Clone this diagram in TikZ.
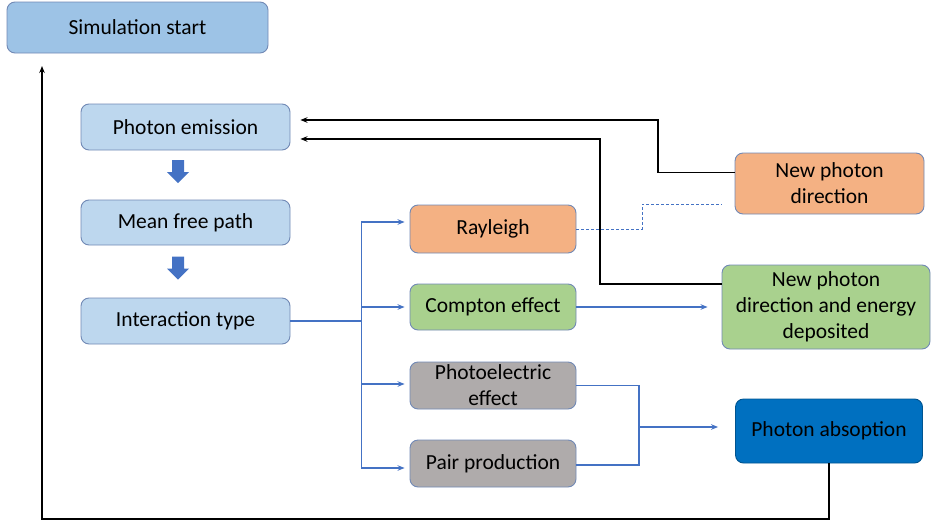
\documentclass[tikz,border=0pt]{standalone}
\usepackage{fontspec}
\setmainfont{Carlito}
\usetikzlibrary{arrows.meta,calc}

\definecolor{simfill}{HTML}{9DC3E6}
\definecolor{lightfill}{HTML}{BDD7EE}
\definecolor{orangefill}{HTML}{F4B183}
\definecolor{greenfill}{HTML}{A9D18E}
\definecolor{greyfill}{HTML}{AFABAB}
\definecolor{darkfill}{HTML}{0070C0}
\definecolor{edgeblue}{HTML}{7189B5}
\definecolor{linkblue}{HTML}{4472C4}

\tikzset{
  box/.style={draw=edgeblue, line width=0.9pt, rounded corners=8pt,
    align=center, inner sep=0pt, font=\fontsize{21.5}{26}\selectfont},
  flowline/.style={draw=linkblue, line width=1.2pt},
  flowarrow/.style={flowline, -{Stealth[length=7pt,width=5.5pt]}},
  backarrow/.style={draw=black, line width=1.5pt, -{Stealth[length=7pt,width=5.5pt]}},
  backline/.style={draw=black, line width=1.5pt},
  hintline/.style={draw=linkblue, line width=0.8pt, dash pattern=on 3pt off 2pt},
  blockarrow/.style={fill=linkblue, draw=none}
}

\begin{document}
\begin{tikzpicture}[x=1pt,y=-1pt]
\useasboundingbox (0,0) rectangle (931,522);

% main sequence
\node[box, fill=simfill, minimum width=261, minimum height=51] (sim) at (137.5,27.5) {Simulation start};
\node[box, fill=lightfill, minimum width=209, minimum height=46] (emit) at (185.5,127) {Photon emission};
\node[box, fill=lightfill, minimum width=209, minimum height=45] (mfp) at (185.5,222.5) {Mean free path};
\node[box, fill=lightfill, minimum width=209, minimum height=46] (itype) at (185.5,321) {Interaction type};

% interaction kinds
\node[box, fill=orangefill, minimum width=166, minimum height=48] (ray) at (493,229) {Rayleigh};
\node[box, fill=greenfill, minimum width=166, minimum height=46] (comp) at (493,307) {Compton effect};
\node[box, fill=greyfill, minimum width=166, minimum height=47] (photo) at (493,385.5) {Photoelectric\\effect};
\node[box, fill=greyfill, minimum width=166, minimum height=47] (pair) at (493,463.5) {Pair production};

% outcomes
\node[box, fill=orangefill, minimum width=189, minimum height=61] (newdir) at (829.5,183.5) {New photon\\direction};
\node[box, fill=greenfill, minimum width=208, minimum height=84] (newde) at (826,307) {New photon\\direction and energy\\deposited};
\node[box, fill=darkfill, draw=darkfill!75!black, minimum width=187, minimum height=64] (absorb) at (829,431) {Photon absoption};

% block arrows between the sequence steps
\foreach \a/\b in {emit/mfp, mfp/itype}{
  \path ($(\a.south)!0.5!(\b.north)+(-7.5,-3.5)$) coordinate (c);
  \fill[blockarrow] ($(c)+(-6,-11.5)$) -- ($(c)+(6,-11.5)$) -- ($(c)+(6,0.5)$)
    -- ($(c)+(11,0.5)$) -- ($(c)+(0,11.5)$) -- ($(c)+(-11,0.5)$) -- ($(c)+(-6,0.5)$) -- cycle;
}

% branching to the interaction kinds
\coordinate (split) at ($(itype.east)+(71,0)$);
\draw[flowline] (itype.east) -- (split);
\draw[flowarrow, shorten >=5pt] (split) |- ($(ray.west)+(0,-7)$);
\draw[flowarrow, shorten >=5pt] (split) |- (comp.west);
\draw[flowarrow, shorten >=5pt] (split) |- ($(photo.west)+(0,-1.5)$);
\draw[flowarrow, shorten >=5pt] (split) |- ($(pair.west)+(0,4.5)$);

% Compton outcome
\draw[flowarrow, shorten >=14pt] (comp.east) -- (comp.east -| newde.west);

% absorption branch
\coordinate (join) at (639,427);
\draw[flowline] (photo.east) -| (join);
\draw[flowline] ($(pair.east)+(0,1.5)$) -| (join);
\draw[flowarrow, shorten >=17pt] (join) -- (join -| absorb.west);

% Rayleigh hint to its outcome
\coordinate (hintend) at ($(newdir.west)+(-13,20.5)$);
\draw[hintline] (ray.east) -| (642,229) |- (hintend);

% feedback to photon emission
\coordinate (fb1) at ($(emit.east)+(0,-7)$);
\coordinate (fb2) at ($(emit.east)+(0,12)$);
\draw[backarrow, shorten >=10pt] ($(newdir.west)+(0,-11)$) -| (658,120) -- (fb1);
\draw[backarrow, shorten >=10pt] ($(newde.west)+(0,-23)$) -| (600,139) -- (fb2);

% restart loop
\coordinate (loopa) at (absorb.south |- 0,519);
\coordinate (loopb) at (42,519);
\coordinate (loopc) at (42,53);
\draw[backarrow, shorten >=13pt] (absorb.south) -- (loopa) -- (loopb) -- (loopc);
\end{tikzpicture}
\end{document}
